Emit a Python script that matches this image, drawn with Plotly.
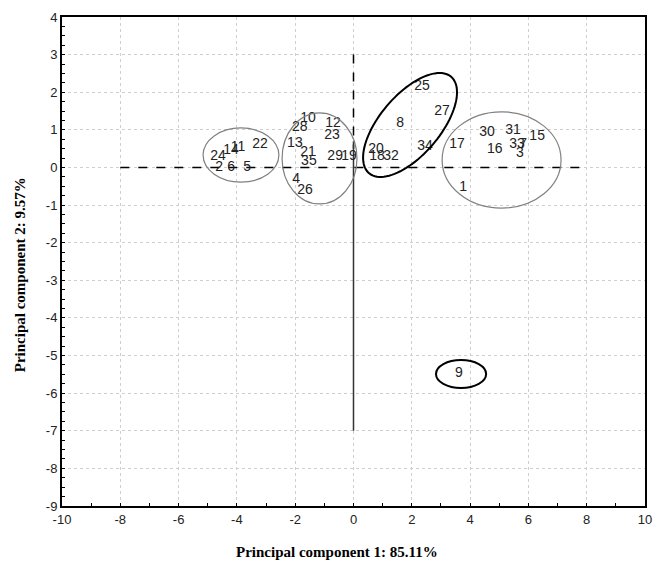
import numpy as np
import plotly.graph_objects as go

# sample numbers and their scores on the first two principal components
labels = [str(i) for i in range(1, 36)]
pc1 = [3.76, -4.61, 5.71, -1.97, -3.65, -4.20, 5.82, 1.60, 3.62, -1.56,
       -3.96, -0.70, -2.01, -4.20, 6.30, 4.85, 3.55, 0.81, -0.15, 0.77,
       -1.56, -3.21, -0.74, -4.65, 2.35, -1.66, 3.04, -1.84, -0.63, 4.58,
       5.47, 1.29, 5.61, 2.45, -1.53]
pc2 = [-0.52, -0.01, 0.36, -0.33, 0.01, -0.01, 0.60, 1.16, -5.49, 1.29,
       0.52, 1.16, 0.63, 0.44, 0.81, 0.47, 0.60, 0.28, 0.28, 0.47,
       0.41, 0.60, 0.84, 0.28, 2.14, -0.60, 1.48, 1.05, 0.28, 0.92,
       0.97, 0.28, 0.60, 0.55, 0.15]

x_ticks = list(range(-10, 11, 2))
y_ticks = list(range(-9, 5))

x_title = "Principal component 1: 85.11%"
y_title = "Principal component 2: 9.57%"

fig = go.Figure()

# reference lines
fig.add_trace(go.Scatter(x=[-8, 8], y=[0, 0], mode="lines",
                         line=dict(color="black", width=1.5, dash="dash"),
                         hoverinfo="skip"))
fig.add_trace(go.Scatter(x=[0, 0], y=[3, 0.5], mode="lines",
                         line=dict(color="black", width=1.5, dash="dash"),
                         hoverinfo="skip"))
fig.add_trace(go.Scatter(x=[0, 0], y=[0.7, -7], mode="lines",
                         line=dict(color="#333", width=1.5),
                         hoverinfo="skip"))

fig.add_trace(go.Scatter(x=pc1, y=pc2, mode="text", text=labels,
                         textposition="middle center",
                         textfont=dict(family="Liberation Sans", size=14, color="#222")))

# group ellipses (axis-aligned ones as circle shapes)
gray = "#808080"
for x0, x1, y0, y1, col, w in [(-5.16, -2.56, -0.39, 1.05, gray, 1.2),
                               (-2.45, 0.12, -0.97, 1.45, gray, 1.2),
                               (3.04, 7.12, -1.08, 1.48, gray, 1.2),
                               (2.83, 4.55, -5.86, -5.12, "black", 2)]:
    fig.add_shape(type="circle", xref="x", yref="y", x0=x0, x1=x1, y0=y0, y1=y1,
                  line=dict(color=col, width=w))

# tilted ellipse around 8, 25, 27, 34...
t = np.linspace(0, 2 * np.pi, 100)
cx, cy = 1.94, 1.13
ex = cx + 1.41 * np.cos(t) + 0.78 * np.sin(t)
ey = cy + 1.28 * np.cos(t) - 0.52 * np.sin(t)
path = "M " + " L ".join(f"{a:.3f},{b:.3f}" for a, b in zip(ex, ey)) + " Z"
fig.add_shape(type="path", path=path, xref="x", yref="y",
              line=dict(color="black", width=2))

tickfont = dict(family="Liberation Sans", size=13, color="#222")
titlefont = dict(family="Liberation Serif", size=15, color="black")

fig.update_xaxes(range=[-10, 10], tickvals=x_ticks, ticktext=[str(v) for v in x_ticks],
                 showgrid=True, gridcolor="#cfcfcf", griddash="dot", gridwidth=1,
                 zeroline=False, showline=True, linecolor="black", linewidth=2, mirror=True,
                 ticks="inside", ticklen=3, tickcolor="black", tickfont=tickfont,
                 minor=dict(tickvals=list(range(-9, 10, 2)), ticks="inside", ticklen=3,
                            tickcolor="black", showgrid=False))
fig.update_yaxes(range=[-9, 4], tickvals=y_ticks, ticktext=[str(v) for v in y_ticks],
                 showgrid=True, gridcolor="#cfcfcf", griddash="dot", gridwidth=1,
                 zeroline=False, showline=True, linecolor="black", linewidth=2, mirror=True,
                 ticks="inside", ticklen=3, tickcolor="black", tickfont=tickfont,
                 minor=dict(dtick=0.25, ticks="inside", ticklen=3,
                            tickcolor="black", showgrid=False))

# axis titles as annotations so they sit where the original has them
fig.add_annotation(text="<b>" + x_title + "</b>", xref="paper", yref="paper",
                   x=0.472, y=-0.094, xanchor="center", yanchor="middle",
                   showarrow=False, font=titlefont)
fig.add_annotation(text="<b>" + y_title + "</b>", xref="paper", yref="paper",
                   x=-0.072, y=0.472, xanchor="center", yanchor="middle",
                   textangle=-90, showarrow=False, font=titlefont)

fig.update_layout(width=653, height=566, showlegend=False,
                  plot_bgcolor="white", paper_bgcolor="white",
                  margin=dict(l=62, r=8, t=17, b=60, autoexpand=False))

# drop the default body margin so the figure starts at the window corner
fig.write_html("out.html", config={"displayModeBar": False},
               post_script="document.body.style.margin = '0';")
